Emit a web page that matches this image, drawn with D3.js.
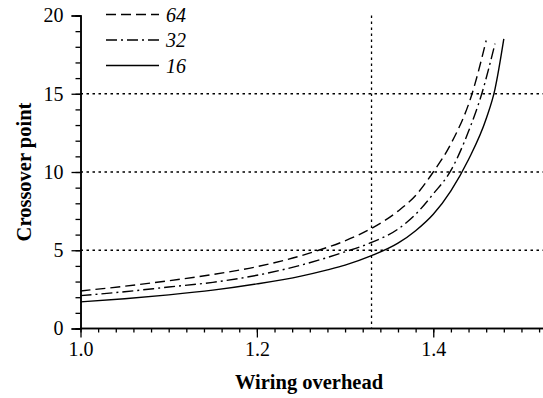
<!DOCTYPE html>
<html>
<head>
<meta charset="utf-8">
<script src="https://cdn.jsdelivr.net/npm/d3@7"></script>
<style>
  body { margin: 0; background: #fff; }
  svg text { font-family: "Liberation Serif", "Times New Roman", serif; fill: #000; }
</style>
</head>
<body>
<svg id="chart" width="543" height="398"></svg>
<script>
"use strict";

// wiring overhead sample points, one list per curve
var x64 = [1.00, 1.05, 1.10, 1.15, 1.20, 1.25, 1.27, 1.30, 1.33, 1.36, 1.38, 1.40, 1.42, 1.444, 1.46];
var y64 = [2.4, 2.7, 3.05, 3.45, 3.95, 4.65, 5.0, 5.6, 6.4, 7.5, 8.5, 10.0, 11.8, 15.0, 18.4];

var x32 = [1.00, 1.05, 1.10, 1.15, 1.20, 1.25, 1.30, 1.33, 1.36, 1.38, 1.40, 1.42, 1.44, 1.455, 1.47];
var y32 = [2.1, 2.35, 2.65, 2.95, 3.4, 4.05, 4.9, 5.5, 6.35, 7.3, 8.6, 10.1, 12.6, 15.0, 18.2];

var x16 = [1.00, 1.05, 1.10, 1.15, 1.20, 1.25, 1.28, 1.30, 1.33, 1.36, 1.38, 1.40, 1.42, 1.44, 1.46, 1.47, 1.48];
var y16 = [1.7, 1.9, 2.15, 2.45, 2.85, 3.35, 3.75, 4.05, 4.65, 5.45, 6.25, 7.3, 8.8, 10.8, 13.4, 15.3, 18.5];

var seriesNames = ["64", "32", "16"];
var xTickLabels = ["1.0", "1.2", "1.4"];
var yTickLabels = ["0", "5", "10", "15", "20"];
var refX = [1.33];
var refY = [5, 10, 15];

var dashes = { "64": "10,5", "32": "11,4,2,4", "16": null };

var svg = d3.select("#chart");

var x = d3.scaleLinear().domain([1.0, 1.525]).range([80.5, 543.5]);
var y = d3.scaleLinear().domain([0, 20]).range([328.5, 15.5]);

// dotted reference lines
svg.selectAll(".hgrid").data(refY).enter().append("line")
    .attr("x1", x(1.0)).attr("x2", 543)
    .attr("y1", d => y(d)).attr("y2", d => y(d))
    .attr("stroke", "#000").attr("stroke-width", 1.3)
    .attr("stroke-dasharray", "2.5,3.5");

svg.selectAll(".vgrid").data(refX).enter().append("line")
    .attr("x1", d => x(d)).attr("x2", d => x(d))
    .attr("y1", y(20)).attr("y2", y(0))
    .attr("stroke", "#000").attr("stroke-width", 1.3)
    .attr("stroke-dasharray", "2.5,3.5");

// curves
var series = [
    { name: "64", xs: x64, ys: y64 },
    { name: "32", xs: x32, ys: y32 },
    { name: "16", xs: x16, ys: y16 }
];

var line = d3.line()
    .x(d => x(d[0]))
    .y(d => y(d[1]))
    .curve(d3.curveMonotoneX);

series.forEach(function(s) {
    var pts = s.xs.map((v, i) => [v, s.ys[i]]);
    svg.append("path")
        .datum(pts)
        .attr("d", line)
        .attr("fill", "none")
        .attr("stroke", "#000")
        .attr("stroke-width", 1.4)
        .attr("stroke-dasharray", dashes[s.name]);
});

// x axis: minor ticks every 0.02, majors every 0.2
var xMinor = d3.range(0, 27).map(i => +(1 + i * 0.02).toFixed(2)).filter(v => v <= 1.52);
var xAxisMinor = d3.axisBottom(x).tickValues(xMinor).tickSize(4).tickFormat("");
var gx = svg.append("g").attr("transform", "translate(0," + y(0) + ")");
gx.call(xAxisMinor);
var xAxisMajor = d3.axisBottom(x).tickValues(xTickLabels.map(Number)).tickSize(9)
    .tickFormat((d, i) => xTickLabels[i]).tickPadding(4);
var gx2 = svg.append("g").attr("transform", "translate(0," + y(0) + ")");
gx2.call(xAxisMajor);

// y axis
var yMinor = d3.range(0, 21);
var yAxisMinor = d3.axisLeft(y).tickValues(yMinor).tickSize(5).tickFormat("");
var gy = svg.append("g").attr("transform", "translate(" + x(1.0) + ",0)");
gy.call(yAxisMinor);
var yAxisMajor = d3.axisLeft(y).tickValues(yTickLabels.map(Number)).tickSize(9)
    .tickFormat((d, i) => yTickLabels[i]).tickPadding(8);
var gy2 = svg.append("g").attr("transform", "translate(" + x(1.0) + ",0)");
gy2.call(yAxisMajor);

svg.selectAll(".domain").attr("stroke", "#000").attr("stroke-width", 1.5);
svg.selectAll(".tick line").attr("stroke", "#000").attr("stroke-width", 1.3);
svg.selectAll(".tick text").attr("font-size", 20).attr("font-family", "Liberation Serif").attr("fill", "#000");
gx2.selectAll(".domain").attr("d", "M" + x(1.0) + ",0H543");
gx.selectAll(".domain").attr("d", "M" + x(1.0) + ",0H543");

// axis titles
svg.append("text")
    .attr("x", 309).attr("y", 389)
    .attr("text-anchor", "middle")
    .attr("font-size", 20.5).attr("font-weight", "bold")
    .text("Wiring overhead");

svg.append("text")
    .attr("transform", "translate(31,172) rotate(-90)")
    .attr("text-anchor", "middle")
    .attr("font-size", 20.5).attr("font-weight", "bold")
    .text("Crossover point");

// legend
var legend = svg.append("g");
seriesNames.forEach(function(name, i) {
    var ly = 14.5 + i * 25.5;
    legend.append("line")
        .attr("x1", 106).attr("x2", 159)
        .attr("y1", ly).attr("y2", ly)
        .attr("stroke", "#000").attr("stroke-width", 1.4)
        .attr("stroke-dasharray", dashes[name]);
    legend.append("text")
        .attr("x", 166).attr("y", ly + 7)
        .attr("font-size", 20).attr("font-style", "italic")
        .text(name);
});
</script>
</body>
</html>
